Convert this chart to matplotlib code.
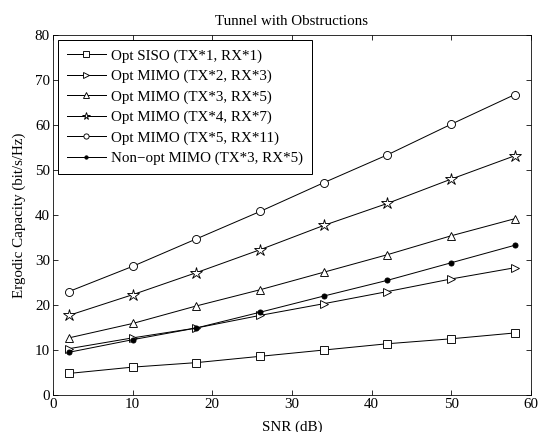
import matplotlib
matplotlib.use("Agg")
import matplotlib.pyplot as plt

plt.rcParams['font.family'] = ['Liberation Serif', 'DejaVu Serif']
plt.rcParams['mathtext.fontset'] = 'stix'

snr = [2, 10, 18, 26, 34, 42, 50, 58]
siso_1x1 = [4.8, 6.2, 7.2, 8.6, 10.0, 11.4, 12.5, 13.8]
mimo_2x3 = [10.3, 12.7, 14.9, 17.7, 20.3, 23.0, 25.8, 28.3]
mimo_3x5 = [12.7, 15.9, 19.8, 23.4, 27.3, 31.2, 35.4, 39.2]
mimo_4x7 = [17.7, 22.3, 27.2, 32.3, 37.7, 42.6, 48.0, 53.2]
mimo_5x11 = [23.0, 28.6, 34.7, 40.8, 47.2, 53.4, 60.2, 66.8]
nonopt_3x5 = [9.5, 12.3, 14.9, 18.4, 22.0, 25.5, 29.4, 33.3]

labels = ['Opt SISO (TX*1, RX*1)', 'Opt MIMO (TX*2, RX*3)', 'Opt MIMO (TX*3, RX*5)',
          'Opt MIMO (TX*4, RX*7)', 'Opt MIMO (TX*5, RX*11)', 'Non\u2212opt MIMO (TX*3, RX*5)']

fig = plt.figure(figsize=(7.5, 6), dpi=72)
ax = fig.add_axes([0.098, 0.0856, 0.885, 0.833])

kw = dict(color='black', lw=1.0, mfc='white', mec='black', mew=0.9)
ax.plot(snr, siso_1x1, marker='s', ms=8, label=labels[0], **kw)
ax.plot(snr, mimo_2x3, marker='>', ms=8, label=labels[1], **kw)
ax.plot(snr, mimo_3x5, marker='^', ms=8, label=labels[2], **kw)
ax.plot(snr, mimo_4x7, marker='*', ms=12, label=labels[3], **kw)
ax.plot(snr, mimo_5x11, marker='o', ms=8, label=labels[4], **kw)
ax.plot(snr, nonopt_3x5, marker='o', ms=5, color='black', lw=1.0, mfc='black', mec='black', label=labels[5])

ax.set_xlim(0, 60)
ax.set_ylim(0, 80)
ax.set_xticks(range(0, 61, 10))
ax.set_yticks(range(0, 81, 10))
ax.tick_params(direction='in', top=True, right=True, labelsize=15, length=5, pad=3)
ax.set_title('Tunnel with Obstructions', fontsize=15, pad=10)
ax.set_xlabel('SNR (dB)', fontsize=15, labelpad=9)
ax.set_ylabel('Ergodic Capacity (bit/s/Hz)', fontsize=15, labelpad=9)

leg = ax.legend(loc='upper left', bbox_to_anchor=(0.0105, 0.986), fontsize=15, frameon=True,
                fancybox=False, edgecolor='black', framealpha=1, borderaxespad=0.0,
                handlelength=2.6, handletextpad=0.35, labelspacing=0.45, borderpad=0.6,
                markerscale=0.65)
leg.get_frame().set_linewidth(1.0)

fig.savefig('out.png', dpi=72)
